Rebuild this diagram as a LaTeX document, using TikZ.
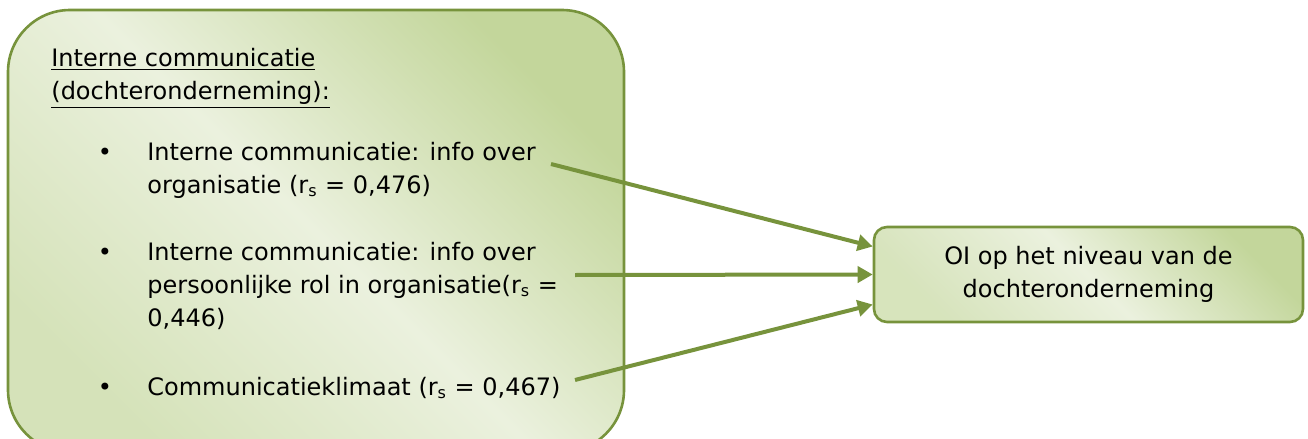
\documentclass[tikz,border=0pt]{standalone}
\usepackage{fontspec}
\setmainfont{DejaVu Sans}
\usetikzlibrary{arrows.meta}

\definecolor{olivegreen}{HTML}{77933C}
\definecolor{olivelight}{HTML}{EBF1DE}
\definecolor{olivedark}{HTML}{C3D69B}

\tikzset{
  groupbox/.style={draw=olivegreen, line width=1.3pt, rounded corners=31pt,
    top color=olivedark, bottom color=olivedark!55!olivelight,
    middle color=olivelight, shading angle=-45, inner sep=0},
  targetbox/.style={draw=olivegreen, line width=1.3pt, rounded corners=6.5pt,
    top color=olivedark, bottom color=olivedark!50!olivelight,
    middle color=olivelight, shading angle=-45, align=center},
  itemtext/.style={anchor=base west, inner sep=0, align=left},
  bulletmark/.style={anchor=base, inner sep=0},
  link/.style={draw=olivegreen, line width=2pt, -{Triangle[length=7.5pt,width=8pt]}}
}

\begin{document}
\begin{tikzpicture}[x=0.5pt, y=-0.5pt,
  font=\fontsize{12}{16.6}\selectfont]
\useasboundingbox (0,0) rectangle (1308,439);
\clip (0,0) rectangle (1308,439);

% left group (text nodes sit on the baseline of their last line)
\node (ic) [groupbox, minimum width=308pt, minimum height=221pt] at (316,231) {};
\node (title) [itemtext] at (51,99.9)
  {\underline{Interne communicatie}\\\underline{(dochteronderneming):}};

\node (b1) [bulletmark] at (105,160) {\textbullet};
\node (t1) [itemtext] at (147,193.2)
  {Interne communicatie: info over\\organisatie (r\textsubscript{s} = 0,476)};
\node (b2) [bulletmark] at (105,260) {\textbullet};
\node (t2) [itemtext] at (147,326.4)
  {Interne communicatie: info over\\persoonlijke rol in organisatie(r\textsubscript{s} =\\0,446)};
\node (b3) [bulletmark] at (105,395) {\textbullet};
\node (t3) [itemtext] at (147,395)
  {Communicatieklimaat (r\textsubscript{s} = 0,467)};

% target
\node (oi) [targetbox, minimum width=214.5pt, minimum height=47.5pt] at (1088.5,274.5)
  {OI op het niveau van de\\dochteronderneming};

% links
\coordinate (s1) at (551,164);
\coordinate (s2) at (575,275);
\coordinate (s3) at (575,380);
\draw[link] (s1) -- ([yshift=14pt]oi.west);
\draw[link] (s2) -- (oi.west);
\draw[link] (s3) -- ([yshift=-15pt]oi.west);
\end{tikzpicture}
\end{document}
